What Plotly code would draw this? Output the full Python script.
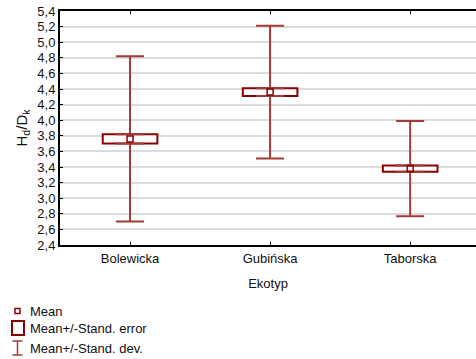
import plotly.graph_objects as go

categories = ["Bolewicka", "Gubińska", "Taborska"]
means = [3.76, 4.36, 3.38]
se = [0.06, 0.05, 0.04]
sd = [1.06, 0.85, 0.61]

box_col = "#8b0000"
wh_col = "#a33a3a"
FONT = "Liberation Sans, Arial, sans-serif"

fig = go.Figure()

# upper and lower whiskers (mean+/-SD), starting at box edges
up_base = [m + s for m, s in zip(means, se)]
lo_base = [m - s for m, s in zip(means, se)]
ext = [d - s for d, s in zip(sd, se)]
zeros = [0] * len(categories)

fig.add_trace(go.Scatter(
    x=categories, y=up_base, mode="markers", marker=dict(size=1, color="rgba(0,0,0,0)"),
    error_y=dict(type="data", symmetric=False, array=ext, arrayminus=zeros,
                 color=wh_col, thickness=2, width=14),
    showlegend=False, hoverinfo="skip"))
fig.add_trace(go.Scatter(
    x=categories, y=lo_base, mode="markers", marker=dict(size=1, color="rgba(0,0,0,0)"),
    error_y=dict(type="data", symmetric=False, array=zeros, arrayminus=ext,
                 color=wh_col, thickness=2, width=14),
    showlegend=False, hoverinfo="skip"))

# SE boxes
fig.add_trace(go.Bar(
    x=categories, y=[2 * s for s in se], base=lo_base, width=0.39,
    marker=dict(color="white", line=dict(color=box_col, width=2)),
    showlegend=False, hoverinfo="skip"))

# means
fig.add_trace(go.Scatter(
    x=categories, y=means, mode="markers",
    marker=dict(symbol="square-open", size=6, color=box_col, line=dict(width=1.5, color=box_col)),
    showlegend=False))

fig.update_layout(
    width=476, height=359,
    margin=dict(l=60, r=0, t=11, b=114),
    paper_bgcolor="white", plot_bgcolor="white",
    separators=",.",
    font=dict(family=FONT, size=13, color="#111"),
    showlegend=False,
    xaxis=dict(
        range=[-0.5, 2.47], showline=True, linecolor="black", linewidth=2,
        mirror="ticks", ticks="inside", ticklen=3, tickcolor="black",
        showgrid=False, tickfont=dict(size=13, family=FONT),
        title=dict(text="Ekotyp", font=dict(size=13, family=FONT), standoff=14),
    ),
    yaxis=dict(
        range=[2.4, 5.4], dtick=0.2, tick0=2.4, tickformat=".1f",
        showline=True, linecolor="black", linewidth=2,
        ticks="inside", ticklen=3, tickcolor="black",
        showgrid=True, gridcolor="#dcdcdc", gridwidth=1.5,
        tickfont=dict(size=13, family=FONT),
        title=dict(text="H<sub>d</sub>/D<sub>k</sub>", font=dict(size=15, family=FONT), standoff=6),
        zeroline=False,
    ),
)

# legend (drawn manually)
L = 60
H = 234  # plot height px
def px(xp):
    return (xp - L) / 416.0
def py(yp):
    return (245 - yp) / H

legend_shapes = [
    dict(type="rect", x0=px(15), x1=px(20), y0=py(313.5), y1=py(308.5), line=dict(color=box_col, width=1.5)),
    dict(type="rect", x0=px(12), x1=px(24), y0=py(335), y1=py(321), line=dict(color=box_col, width=2)),
    dict(type="line", x0=px(17.5), x1=px(17.5), y0=py(355), y1=py(341), line=dict(color=wh_col, width=1.5)),
    dict(type="line", x0=px(12.5), x1=px(22.5), y0=py(341), y1=py(341), line=dict(color=wh_col, width=1.5)),
    dict(type="line", x0=px(12.5), x1=px(22.5), y0=py(355), y1=py(355), line=dict(color=wh_col, width=1.5)),
]
for s in legend_shapes:
    s.update(xref="x domain", yref="y domain")
    fig.add_shape(**s)

legend_texts = [("Mean", 311), ("Mean+/-Stand. error", 328.5), ("Mean+/-Stand. dev.", 348)]
for t, yp in legend_texts:
    fig.add_annotation(text=t, xref="x domain", yref="y domain", x=px(28), y=py(yp),
                       xanchor="left", yanchor="middle", showarrow=False,
                       font=dict(size=13, family=FONT, color="#111"))

fig.write_html("out.html")
